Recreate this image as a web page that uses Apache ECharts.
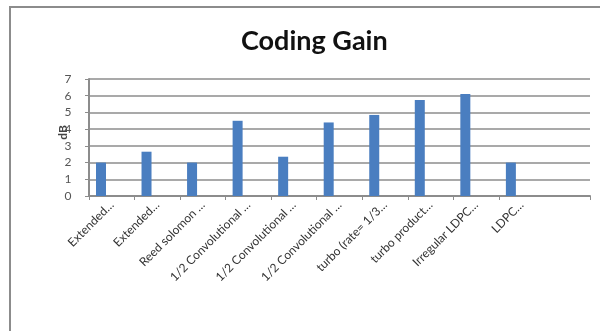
<!DOCTYPE html>
<html>
<head>
<meta charset="utf-8">
<script src="https://cdn.jsdelivr.net/npm/echarts@6/dist/echarts.min.js"></script>
<style>
  html, body { margin: 0; padding: 0; background: #fff; }
  #frame { position: absolute; left: 9px; top: 6px; right: 0; bottom: 0;
           border-top: 2px solid #8c8c8c; border-left: 2px solid #8c8c8c; }
  #chart { position: absolute; left: 0; top: 0; width: 600px; height: 331px; }
</style>
</head>
<body>
<div id="frame"></div>
<div id="chart"></div>
<script>
// Coding gain (dB) of each coding scheme
const categories = [
  'Extended…',
  'Extended…',
  'Reed solomon …',
  '1/2 Convolutional …',
  '1/2 Convolutional …',
  '1/2 Convolutional …',
  'turbo (rate= 1/3…',
  'turbo product…',
  'Irregular LDPC…',
  'LDPC…'
];
const gainDb = [2.0, 2.65, 2.0, 4.5, 2.35, 4.4, 4.85, 5.75, 6.1, 2.0];
const yTicks = { min: 0, max: 7, step: 1 };

const chart = echarts.init(document.getElementById('chart'), null, { renderer: 'canvas' });
const labelFont = 'Lato, "Open Sans", sans-serif';

chart.setOption({
  animation: false,
  backgroundColor: 'transparent',
  title: {
    text: 'Coding Gain',
    left: 236,
    top: 23,
    textStyle: { fontFamily: labelFont, fontWeight: 'bold', fontSize: 27, color: '#111' }
  },
  grid: { left: 89, right: 10, top: 79, bottom: 135 },
  xAxis: {
    type: 'category',
    // a spare slot at the right end of the axis
    data: categories.concat(['-']),
    axisLine: { lineStyle: { color: '#8c8c8c', width: 2 } },
    axisTick: { show: true, length: 4, lineStyle: { color: '#8c8c8c' } },
    axisLabel: {
      rotate: 45, margin: 7,
      interval: (idx) => idx < categories.length,
      fontFamily: labelFont, fontSize: 12, color: '#333'
    }
  },
  yAxis: {
    type: 'value',
    min: yTicks.min, max: yTicks.max, interval: yTicks.step,
    name: 'dB',
    nameLocation: 'middle',
    nameGap: 20,
    nameMoveOverlap: false,
    nameTextStyle: { fontFamily: labelFont, fontSize: 12, fontWeight: 'bold', color: '#444', padding: [0, 0, 0, 10] },
    axisLine: { show: true, lineStyle: { color: '#8c8c8c', width: 2 } },
    axisTick: { show: true, length: 4, lineStyle: { color: '#8c8c8c' } },
    axisLabel: { margin: 21, fontFamily: labelFont, fontSize: 12, color: '#555', align: 'center' },
    splitLine: { lineStyle: { color: '#8c8c8c', width: 1.5 } }
  },
  series: [
    {
      type: 'bar',
      data: gainDb,
      barWidth: 10,
      barGap: '116%',
      itemStyle: { color: '#4a7ec0' }
    },
    {
      // second (empty) series in each cluster
      type: 'bar',
      data: [],
      barWidth: 10
    }
  ]
});
</script>
</body>
</html>
